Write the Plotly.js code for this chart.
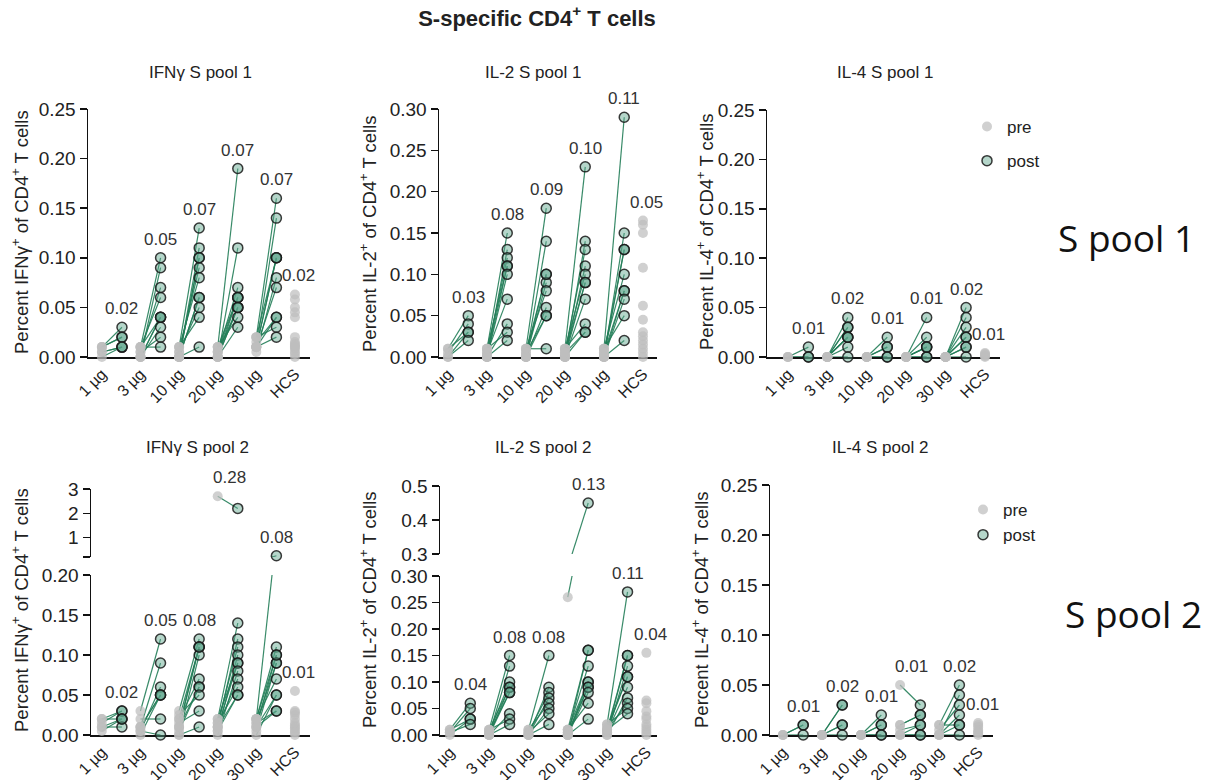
<!DOCTYPE html>
<html>
<head>
<meta charset="utf-8">
<script src="https://cdn.plot.ly/plotly-3.0.1.min.js"></script>
<style>html,body{margin:0;padding:0;background:#fff;}#chart{width:1215px;height:780px;}</style>
</head>
<body>
<div id="chart"></div>
<script>
// ---------- DATA ----------
const xLabels = ['1 µg', '3 µg', '10 µg', '20 µg', '30 µg', 'HCS'];

// IFNγ S pool 1
const ifng1Pre = [
  [0.01, 0.01, 0.005, 0, 0.01, 0.005],
  [0.01, 0, 0.005, 0.01, 0, 0.01, 0, 0.005, 0.01, 0],
  [0.01, 0, 0, 0.005, 0.01, 0, 0, 0.005, 0.01, 0, 0],
  [0.01, 0, 0.005, 0, 0.01, 0, 0.005, 0.01, 0, 0.005, 0],
  [0.02, 0.01, 0.01, 0.02, 0.005, 0.01, 0.015, 0.01, 0.02, 0.01, 0.01]
];
const ifng1Post = [
  [0.03, 0.02, 0.01, 0.01, 0.02, 0.01],
  [0.10, 0.09, 0.07, 0.06, 0.04, 0.04, 0.03, 0.02, 0.01, 0.04],
  [0.13, 0.11, 0.10, 0.09, 0.08, 0.06, 0.06, 0.05, 0.04, 0.01, 0.10],
  [0.19, 0.11, 0.07, 0.06, 0.06, 0.05, 0.05, 0.04, 0.03, 0.06, 0.05],
  [0.16, 0.14, 0.10, 0.10, 0.08, 0.07, 0.04, 0.04, 0.03, 0.02, 0.10]
];
const ifng1Hcs = [0.063, 0.058, 0.05, 0.045, 0.04, 0.02, 0.015, 0.012, 0.01, 0.008, 0.005, 0.003, 0, 0.01, 0.013];
const ifng1Labels = ['0.02', '0.05', '0.07', '0.07', '0.07', '0.02'];

// IL-2 S pool 1
const il21Pre = [
  [0.01, 0.005, 0, 0.01, 0],
  [0.01, 0, 0.005, 0, 0.01, 0, 0.005, 0, 0.01, 0],
  [0.01, 0, 0.005, 0, 0.01, 0, 0.005, 0, 0.01, 0],
  [0.01, 0, 0.005, 0, 0.01, 0, 0.005, 0, 0.01, 0, 0.005],
  [0.01, 0, 0.005, 0, 0.01, 0, 0.005, 0, 0.01, 0]
];
const il21Post = [
  [0.05, 0.04, 0.03, 0.03, 0.02],
  [0.15, 0.13, 0.12, 0.11, 0.11, 0.10, 0.07, 0.04, 0.03, 0.02],
  [0.18, 0.14, 0.10, 0.09, 0.08, 0.06, 0.05, 0.05, 0.01, 0.10],
  [0.23, 0.14, 0.13, 0.11, 0.10, 0.09, 0.09, 0.07, 0.04, 0.03, 0.03],
  [0.29, 0.15, 0.13, 0.13, 0.10, 0.08, 0.08, 0.07, 0.05, 0.02]
];
const il21Hcs = [0.165, 0.16, 0.15, 0.108, 0.062, 0.045, 0.03, 0.025, 0.02, 0.015, 0.01, 0.005, 0];
const il21Labels = ['0.03', '0.08', '0.09', '0.10', '0.11', '0.05'];

// IL-4 S pool 1
const il41Pre = [
  [0, 0, 0],
  [0, 0, 0, 0, 0, 0, 0, 0],
  [0, 0, 0, 0, 0],
  [0, 0, 0, 0, 0, 0, 0],
  [0, 0, 0, 0, 0, 0, 0, 0]
];
const il41Post = [
  [0.01, 0, 0],
  [0.04, 0.03, 0.03, 0.02, 0.02, 0.01, 0, 0.02],
  [0.02, 0.01, 0.01, 0, 0],
  [0.04, 0.02, 0.01, 0.01, 0, 0, 0.01],
  [0.05, 0.04, 0.03, 0.02, 0.02, 0.01, 0, 0.01]
];
const il41Hcs = [0.003, 0.002, 0, 0.001, 0.004];
const il41Labels = ['0.01', '0.02', '0.01', '0.01', '0.02', '0.01'];

// IFNγ S pool 2
const ifng2Pre = [
  [0.02, 0.015, 0.01, 0.005, 0.01, 0.02],
  [0.03, 0.01, 0.005, 0, 0.01, 0.02, 0.005, 0.01],
  [0.03, 0.02, 0.01, 0, 0.02, 0.01, 0.005, 0.025, 0.015, 0, 0.01],
  [0.02, 0.01, 0.015, 0.005, 0.01, 0.02, 0, 0.01, 0.015, 0.005, 0.01, 2.7],
  [0.02, 0.01, 0.015, 0.005, 0.02, 0.01, 0, 0.01, 0.015, 0.02, 0.02]
];
const ifng2Post = [
  [0.03, 0.03, 0.02, 0.02, 0.01, 0.02],
  [0.12, 0.09, 0.06, 0.05, 0.05, 0.02, 0, 0.05],
  [0.12, 0.11, 0.11, 0.10, 0.07, 0.06, 0.06, 0.05, 0.03, 0.01, 0.11],
  [0.14, 0.12, 0.11, 0.10, 0.09, 0.09, 0.08, 0.07, 0.06, 0.05, 0.05, 2.2],
  [0.11, 0.10, 0.09, 0.09, 0.07, 0.05, 0.05, 0.03, 0.03, 0.10, 0.25]
];
const ifng2Hcs = [0.055, 0.03, 0.028, 0.025, 0.02, 0.015, 0.012, 0.01, 0.008, 0.005, 0.003, 0];
const ifng2Labels = ['0.02', '0.05', '0.08', '0.28', '0.08', '0.01'];

// IL-2 S pool 2
const il22Pre = [
  [0.01, 0.005, 0, 0.01, 0.005],
  [0.01, 0, 0.005, 0, 0.01, 0, 0.005, 0, 0.01, 0],
  [0.01, 0, 0.005, 0, 0.01, 0, 0.005, 0],
  [0.01, 0, 0.005, 0, 0.01, 0, 0.005, 0, 0.01, 0, 0.26],
  [0.02, 0.01, 0.005, 0, 0.01, 0.015, 0.005, 0, 0.01, 0.02, 0.01]
];
const il22Post = [
  [0.06, 0.05, 0.03, 0.03, 0.02],
  [0.15, 0.13, 0.10, 0.09, 0.09, 0.08, 0.08, 0.04, 0.03, 0.02],
  [0.15, 0.09, 0.08, 0.07, 0.06, 0.05, 0.04, 0.02],
  [0.16, 0.16, 0.13, 0.10, 0.10, 0.09, 0.09, 0.08, 0.06, 0.03, 0.45],
  [0.27, 0.15, 0.15, 0.13, 0.11, 0.11, 0.09, 0.07, 0.06, 0.05, 0.04]
];
const il22Hcs = [0.155, 0.065, 0.06, 0.045, 0.035, 0.03, 0.02, 0.015, 0.01, 0.005, 0];
const il22Labels = ['0.04', '0.08', '0.08', '0.13', '0.11', '0.04'];

// IL-4 S pool 2
const il42Pre = [
  [0, 0, 0],
  [0, 0, 0, 0, 0],
  [0, 0, 0, 0, 0],
  [0.05, 0.01, 0, 0.005, 0, 0.01, 0],
  [0.01, 0, 0.005, 0, 0, 0.01, 0]
];
const il42Post = [
  [0.01, 0.01, 0],
  [0.03, 0.03, 0.01, 0.01, 0],
  [0.02, 0.01, 0.01, 0, 0],
  [0.03, 0.02, 0.01, 0.01, 0, 0.02, 0],
  [0.05, 0.04, 0.03, 0.02, 0.01, 0.01, 0]
];
const il42Hcs = [0.012, 0.01, 0.008, 0.005, 0.003, 0, 0.002];
const il42Labels = ['0.01', '0.02', '0.01', '0.01', '0.02', '0.01'];

// ---------- LAYOUT HELPERS ----------
const W = 1215, H = 780;
const FONT = 'Liberation Sans, Arial, Helvetica, sans-serif';
const px = v => v / W;
const py = v => 1 - v / H;
const POST_OFF = 0.52;

const preMarker = {size: 10, color: 'rgba(190,190,190,0.72)', line: {width: 0}};
const postMarker = {size: 10, color: 'rgba(90,165,138,0.45)', line: {color: 'rgba(25,25,25,0.85)', width: 1.5}};
const lineStyle = {color: 'rgba(34,125,88,0.9)', width: 1.2};

const panels = [
  {n: 1, title: 'IFNγ S pool 1', ytitle: 'Percent IFNγ<sup>+</sup> of CD4<sup>+</sup> T cells',
   pre: ifng1Pre, post: ifng1Post, hcs: ifng1Hcs, labels: ifng1Labels,
   xdom: [88, 310], xr: [-0.36, 5.39], low: {dom: [109, 357], range: [0, 0.25], dtick: 0.05, fmt: '.2f'},
   titlePos: [200, 72], ytPos: [20, 232], legend: null},
  {n: 2, title: 'IL-2 S pool 1', ytitle: 'Percent IL-2<sup>+</sup> of CD4<sup>+</sup> T cells',
   pre: il21Pre, post: il21Post, hcs: il21Hcs, labels: il21Labels,
   xdom: [439, 657], xr: [-0.23, 5.36], low: {dom: [109, 357], range: [0, 0.30], dtick: 0.05, fmt: '.2f'},
   titlePos: [533, 72], ytPos: [368, 234], legend: null},
  {n: 3, title: 'IL-4 S pool 1', ytitle: 'Percent IL-4<sup>+</sup> of CD4<sup>+</sup> T cells',
   pre: il41Pre, post: il41Post, hcs: il41Hcs, labels: il41Labels,
   xdom: [767, 1000], xr: [-0.53, 5.38], low: {dom: [110, 357], range: [0, 0.25], dtick: 0.05, fmt: '.2f'},
   titlePos: [885, 72], ytPos: [705, 232], legend: 'legend'},
  {n: 4, title: 'IFNγ S pool 2', ytitle: 'Percent IFNγ<sup>+</sup> of CD4<sup>+</sup> T cells',
   pre: ifng2Pre, post: ifng2Post, hcs: ifng2Hcs, labels: ifng2Labels,
   xdom: [91, 310], xr: [-0.28, 5.39], low: {dom: [575, 735], range: [0, 0.20], dtick: 0.05, fmt: '.2f'},
   up: {n: 7, dom: [489, 557], range: [0.2, 3], tickvals: [0.2, 1, 2, 3], ticktext: ['', '1', '2', '3']},
   titlePos: [197, 448], ytPos: [20, 610], legend: null},
  {n: 5, title: 'IL-2 S pool 2', ytitle: 'Percent IL-2<sup>+</sup> of CD4<sup>+</sup> T cells',
   pre: il22Pre, post: il22Post, hcs: il22Hcs, labels: il22Labels,
   xdom: [440, 657], xr: [-0.25, 5.27], low: {dom: [576, 735], range: [0, 0.30], dtick: 0.05, fmt: '.2f'},
   up: {n: 8, dom: [486, 554], range: [0.3, 0.5], tickvals: [0.3, 0.4, 0.5], ticktext: ['0.3', '0.4', '0.5']},
   titlePos: [543, 448], ytPos: [368, 610], legend: null},
  {n: 6, title: 'IL-4 S pool 2', ytitle: 'Percent IL-4<sup>+</sup> of CD4<sup>+</sup> T cells',
   pre: il42Pre, post: il42Post, hcs: il42Hcs, labels: il42Labels,
   xdom: [770, 993], xr: [-0.33, 5.38], low: {dom: [485, 735], range: [0, 0.25], dtick: 0.05, fmt: '.2f'},
   titlePos: [880, 448], ytPos: [700, 610], legend: 'legend2'}
];

const traces = [];
const annotations = [];
const layout = {
  width: W, height: H,
  margin: {l: 0, r: 0, t: 0, b: 0},
  paper_bgcolor: '#fff', plot_bgcolor: 'rgba(0,0,0,0)',
  font: {family: FONT, color: '#222', size: 15},
  showlegend: true,
  title: {text: '<b>S-specific CD4<sup>+</sup> T cells</b>', x: 537 / W, xanchor: 'center', y: 1 - 18 / H, yanchor: 'middle',
          font: {size: 22, family: FONT, color: '#222'}},
  legend: {x: px(967), y: py(109), xanchor: 'left', yanchor: 'top', bgcolor: 'rgba(0,0,0,0)',
           font: {size: 17, family: FONT, color: '#222'}, traceorder: 'grouped', tracegroupgap: 9, itemwidth: 30},
  legend2: {x: px(963), y: py(492), xanchor: 'left', yanchor: 'top', bgcolor: 'rgba(0,0,0,0)',
            font: {size: 17, family: FONT, color: '#222'}, traceorder: 'grouped', tracegroupgap: 0, itemwidth: 30},
  annotations: annotations
};

function axName(k) { return k === 1 ? '' : String(k); }

panels.forEach(p => {
  const xa = 'x' + axName(p.n);
  const lowY = 'y' + axName(p.n);
  const upY = p.up ? 'y' + p.up.n : null;
  const brk = p.up ? p.up.range[0] : Infinity;

  layout['xaxis' + axName(p.n)] = {
    domain: [px(p.xdom[0]), px(p.xdom[1])], range: p.xr, anchor: lowY,
    tickvals: [0, 1, 2, 3, 4, 5], ticktext: xLabels, tickangle: -45,
    showline: true, linecolor: '#111', linewidth: 1.5, ticks: '', showgrid: false, zeroline: false,
    tickfont: {size: 16, family: FONT, color: '#222'}, layer: 'below traces', fixedrange: true
  };
  layout['yaxis' + axName(p.n)] = {
    domain: [py(p.low.dom[1]), py(p.low.dom[0])], range: p.low.range, anchor: xa,
    dtick: p.low.dtick, tick0: 0, tickformat: p.low.fmt,
    showline: true, linecolor: '#111', linewidth: 1.5, ticks: 'outside', ticklen: 7, tickwidth: 1.5, tickcolor: '#111',
    showgrid: false, zeroline: false, tickfont: {size: 19, family: FONT, color: '#222'}, layer: 'below traces', fixedrange: true
  };
  if (p.up) {
    layout['yaxis' + p.up.n] = {
      domain: [py(p.up.dom[1]), py(p.up.dom[0])], range: p.up.range, anchor: xa,
      tickvals: p.up.tickvals, ticktext: p.up.ticktext,
      showline: true, linecolor: '#111', linewidth: 1.5, ticks: 'outside', ticklen: 7, tickwidth: 1.5, tickcolor: '#111',
      showgrid: false, zeroline: false, tickfont: {size: 19, family: FONT, color: '#222'}, layer: 'below traces', fixedrange: true
    };
  }

  const lx = [], ly = [];
  p.pre.forEach((col, i) => {
    col.forEach((v, j) => { lx.push(i, i + POST_OFF, null); ly.push(v, p.post[i][j], null); });
  });
  [lowY, upY].filter(Boolean).forEach(ya => {
    traces.push({type: 'scatter', mode: 'lines', x: lx, y: ly, xaxis: xa, yaxis: ya,
      line: lineStyle, hoverinfo: 'skip', showlegend: false, connectgaps: false});
  });

  function split(vals, xs) {
    const lo = {x: [], y: []}, hi = {x: [], y: []};
    vals.forEach((v, k) => { const t = v > brk ? hi : lo; t.x.push(xs[k]); t.y.push(v); });
    return {lo, hi};
  }
  const preX = [], preV = [], postX = [], postV = [];
  p.pre.forEach((col, i) => col.forEach((v, j) => {
    preX.push(i); preV.push(v); postX.push(i + POST_OFF); postV.push(p.post[i][j]);
  }));
  p.hcs.forEach(v => { preX.push(5); preV.push(v); });
  const sp = split(preV, preX), so = split(postV, postX);

  const addMarkers = (d, ya, marker, name, legendKey) => {
    if (!d.x.length && !legendKey) return;
    const t = {type: 'scatter', mode: 'markers', x: d.x, y: d.y, xaxis: xa, yaxis: ya, name: name,
      marker: marker, cliponaxis: false, showlegend: !!legendKey, hoverinfo: 'x+y'};
    if (legendKey) { t.legend = legendKey; t.legendgroup = name + legendKey; }
    traces.push(t);
  };
  addMarkers(sp.lo, lowY, preMarker, 'pre', p.legend);
  if (upY) addMarkers(sp.hi, upY, preMarker, 'pre', null);
  addMarkers(so.lo, lowY, postMarker, 'post', p.legend);
  if (upY) addMarkers(so.hi, upY, postMarker, 'post', null);

  p.labels.forEach((txt, i) => {
    let ymax, xpos;
    if (i < 5) {
      const mpre = Math.max(...p.pre[i]), mpost = Math.max(...p.post[i]);
      ymax = Math.max(mpre, mpost);
      xpos = mpost >= mpre ? i + POST_OFF : i + 0.3;
    } else {
      ymax = Math.max(...p.hcs);
      xpos = 5.1;
    }
    annotations.push({text: txt, x: xpos, y: ymax, xref: xa, yref: ymax > brk ? upY : lowY,
      showarrow: false, yanchor: 'bottom', yshift: 7, font: {size: 17, family: FONT, color: '#333'}});
  });

  annotations.push({text: p.title, x: px(p.titlePos[0]), y: py(p.titlePos[1]), xref: 'paper', yref: 'paper',
    showarrow: false, xanchor: 'center', yanchor: 'middle', font: {size: 17, family: FONT, color: '#222'}});
  annotations.push({text: p.ytitle, x: px(p.ytPos[0]), y: py(p.ytPos[1]), xref: 'paper', yref: 'paper',
    showarrow: false, xanchor: 'center', yanchor: 'middle', textangle: -90, font: {size: 18.5, family: FONT, color: '#222'}});
});

annotations.push({text: 'S pool 1', x: px(1126), y: py(237), xref: 'paper', yref: 'paper', showarrow: false,
  xanchor: 'center', yanchor: 'middle', font: {size: 37, family: 'Open Sans, Noto Sans, sans-serif', color: '#111'}});
annotations.push({text: 'S pool 2', x: px(1133), y: py(613), xref: 'paper', yref: 'paper', showarrow: false,
  xanchor: 'center', yanchor: 'middle', font: {size: 37, family: 'Open Sans, Noto Sans, sans-serif', color: '#111'}});

Plotly.newPlot('chart', traces, layout, {displayModeBar: false, staticPlot: true});
</script>
</body>
</html>
